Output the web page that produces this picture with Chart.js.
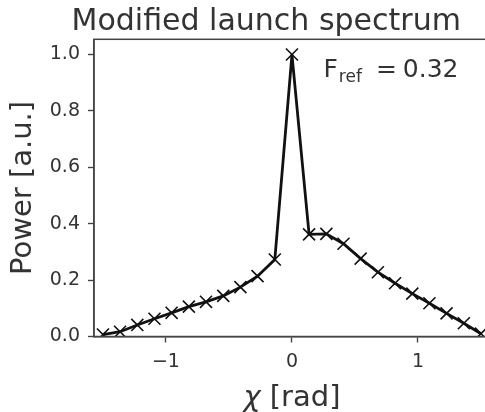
<!DOCTYPE html>
<html>
<head>
<meta charset="utf-8">
<script src="https://cdn.jsdelivr.net/npm/chart.js@4/dist/chart.umd.min.js"></script>
<style>
  html, body { margin: 0; padding: 0; overflow: hidden; background: #fff; }
  canvas { display: block; }
</style>
</head>
<body>
<canvas id="chart" width="500" height="412"></canvas>
<script>
// Launch spectrum samples: angle chi [rad] and normalised power
const chartTitle = 'Modified launch spectrum';
const xLabelSymbol = 'χ';
const xLabelUnit = '[rad]';
const yLabel = 'Power [a.u.]';
const chi = [-1.5, -1.364, -1.227, -1.091, -0.955, -0.818, -0.682, -0.545, -0.409, -0.273, -0.136,
             0,
             0.136, 0.273, 0.409, 0.545, 0.682, 0.818, 0.955, 1.091, 1.227, 1.364, 1.5];
const power = [0.007, 0.017, 0.041, 0.063, 0.084, 0.106, 0.123, 0.144, 0.175, 0.214, 0.273,
               1.0,
               0.362, 0.364, 0.329, 0.276, 0.228, 0.189, 0.152, 0.118, 0.082, 0.047, 0.010];
const xTicks = [-1, 0, 1];
const yTicks = [0, 0.2, 0.4, 0.6, 0.8, 1.0];
const xRange = [-1.5708, 1.5708];
const yRange = [0, 1.054];
const fRef = 0.32;
const fRefAt = [0.25, 0.92];

const TEXT = '#333333';
const SPINE = '#444444';
const FONT = "'DejaVu Sans', sans-serif";

const points = chi.map((x, i) => ({ x, y: power[i] }));

// Frame, title, x-axis label (italic chi) and the F_ref note
const decorations = {
  id: 'decorations',
  afterDatasetsDraw(chart) {
    const { ctx, chartArea: a, scales } = chart;
    ctx.save();
    ctx.strokeStyle = SPINE;
    ctx.lineWidth = 1.5;
    ctx.strokeRect(a.left, a.top, a.right - a.left, a.bottom - a.top);

    ctx.fillStyle = TEXT;
    ctx.textBaseline = 'alphabetic';
    ctx.textAlign = 'center';
    ctx.font = `30px ${FONT}`;
    ctx.fillText(chartTitle, a.left + (a.right - a.left) * 0.435, a.top - 9.5);

    // x-axis label: italic symbol followed by the unit
    ctx.textAlign = 'left';
    ctx.font = `italic 29px ${FONT}`;
    const wSym = ctx.measureText(xLabelSymbol).width;
    ctx.font = `29px ${FONT}`;
    const wGap = ctx.measureText(' ').width;
    const wUnit = ctx.measureText(xLabelUnit).width;
    let lx = (a.left + a.right) / 2 - (wSym + wGap + wUnit) / 2;
    const ly = a.bottom + 69;
    ctx.font = `italic 29px ${FONT}`;
    ctx.fillText(xLabelSymbol, lx, ly);
    ctx.font = `29px ${FONT}`;
    ctx.fillText(xLabelUnit, lx + wSym + wGap, ly);

    let x = scales.x.getPixelForValue(fRefAt[0]);
    const y = scales.y.getPixelForValue(fRefAt[1]);
    ctx.font = `25px ${FONT}`;
    ctx.fillText('F', x, y);
    x += ctx.measureText('F').width + 1;
    ctx.font = `17px ${FONT}`;
    ctx.fillText('ref', x, y + 5);
    x += ctx.measureText('ref').width + 14;
    ctx.font = `25px ${FONT}`;
    ctx.fillText('=', x, y);
    x += ctx.measureText('=').width + 6;
    ctx.fillText(fRef.toFixed(2), x, y);
    ctx.restore();
  }
};

new Chart(document.getElementById('chart'), {
  type: 'scatter',
  data: {
    datasets: [{
      data: points,
      showLine: true,
      borderColor: '#111111',
      borderWidth: 2.8,
      pointStyle: 'crossRot',
      pointRadius: 8.5,
      pointBorderWidth: 1.6,
      pointBorderColor: '#111111',
      pointHoverRadius: 8.5,
      tension: 0,
      clip: 0
    }]
  },
  options: {
    responsive: false,
    animation: false,
    events: [],
    layout: { padding: { top: 39.3, right: 7, left: 0, bottom: 0 } },
    plugins: { legend: { display: false }, tooltip: { enabled: false }, title: { display: false } },
    scales: {
      x: {
        type: 'linear',
        min: xRange[0],
        max: xRange[1],
        afterBuildTicks: s => { s.ticks = xTicks.map(v => ({ value: v })); },
        afterFit: s => { s.height = 75.5; },
        ticks: {
          color: TEXT,
          font: { family: FONT, size: 19 },
          padding: 8,
          callback: v => String(v).replace('-', '\u2212')
        },
        grid: { drawOnChartArea: false, drawTicks: true, tickLength: 6, tickWidth: 1.4, color: SPINE },
        border: { display: true, color: SPINE, width: 1.5 },
        title: { display: false }
      },
      y: {
        type: 'linear',
        min: yRange[0],
        max: yRange[1],
        afterBuildTicks: s => { s.ticks = yTicks.map(v => ({ value: v })); },
        afterFit: s => { s.width = 94; },
        ticks: {
          color: TEXT,
          font: { family: FONT, size: 19 },
          padding: 8,
          callback: v => Number(v).toFixed(1)
        },
        grid: { drawOnChartArea: false, drawTicks: true, tickLength: 6, tickWidth: 1.4, color: SPINE },
        border: { display: true, color: SPINE, width: 1.5 },
        title: {
          display: true, text: yLabel, color: TEXT,
          font: { family: FONT, size: 29, lineHeight: 1 },
          padding: { top: 8.5, bottom: 0 }
        }
      }
    }
  },
  plugins: [decorations]
});
</script>
</body>
</html>
